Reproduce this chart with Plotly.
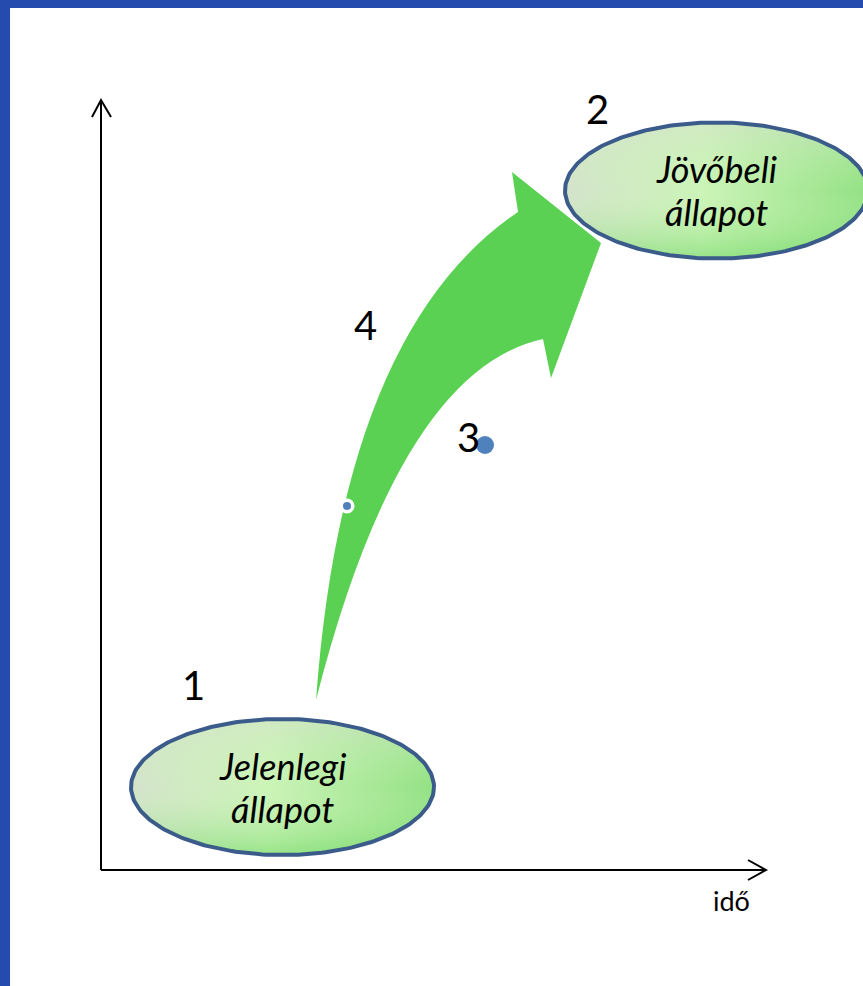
import numpy as np
import plotly.graph_objects as go

W, H = 863, 986

# ---- diagram content (pixel-space coordinates of the schematic) ----
state_line1 = ["Jelenlegi", "Jövőbeli"]
state_line2 = ["állapot", "állapot"]
state_cx = [282.5, 716.5]
state_cy = [787.0, 190.5]
state_rx = [151.5, 151.5]
state_ry = [68.0, 68.0]
text_line1_y = [766, 169]
text_line2_y = [809, 212]

num_labels = ["1", "2", "3", "4"]
num_x = [193, 597, 468, 365]
num_y = [685, 109, 437, 325]

dot_x = [485, 347]
dot_y = [445, 506]
dot_size = [18, 11.5]
dot_ring = [0, 3.5]

axis_origin = (101, 870)
axis_top_y = 100
axis_right_x = 766
axis_label = "idő"

# curved arrow outline: tail, outer control, head base, barb, tip, barb, inner base, inner control
arrow_tail = (316, 700)
arrow_outer_ctrl = (343, 330)
arrow_outer_end = (518, 212)
arrow_barb1 = (512, 172)
arrow_tip = (601, 243)
arrow_barb2 = (551, 378)
arrow_inner_start = (543, 339)
arrow_inner_ctrl = (400, 370)

fig = go.Figure()

# ellipses with gradient fill
t = np.linspace(0, 2 * np.pi, 241)
for l1, l2, cx, cy, rx, ry, y1, y2 in zip(state_line1, state_line2, state_cx, state_cy,
                                          state_rx, state_ry, text_line1_y, text_line2_y):
    ex = cx + rx * np.cos(t)
    ey = cy + ry * np.sin(t)
    fig.add_trace(go.Scatter(
        x=ex, y=ey, mode="lines", fill="toself", line=dict(width=0),
        fillgradient=dict(type="horizontal", start=cx - rx, stop=cx + rx,
                          colorscale=[[0, "#D4E3CB"], [0.45, "#CCF4B8"], [1, "#93E184"]]),
        hoverinfo="skip", showlegend=False))
    fig.add_trace(go.Scatter(
        x=ex, y=ey, mode="lines", fill="toself", line=dict(width=0),
        fillgradient=dict(type="vertical", start=cy - ry, stop=cy + ry,
                          colorscale=[[0, "rgba(214,224,206,0.55)"], [0.5, "rgba(204,245,185,0)"],
                                      [1, "rgba(100,212,90,0.5)"]]),
        hoverinfo="skip", showlegend=False))
    fig.add_trace(go.Scatter(
        x=ex, y=ey, mode="lines", line=dict(color="#3B5C8B", width=4),
        hoverinfo="skip", showlegend=False))
    for txt, ty in ((l1, y1), (l2, y2)):
        fig.add_annotation(x=cx, y=ty, text="<i>" + txt + "</i>", showarrow=False,
                           xanchor="center", yanchor="middle",
                           font=dict(family="Lato", size=36, color="black"))

# dots
fig.add_trace(go.Scatter(
    x=dot_x, y=dot_y, mode="markers",
    marker=dict(size=dot_size, color="#4F81BD", opacity=1,
                line=dict(color="white", width=dot_ring)),
    hoverinfo="skip", showlegend=False))

# numbers
for s, x, y in zip(num_labels, num_x, num_y):
    fig.add_annotation(x=x, y=y, text=s, showarrow=False, xanchor="center", yanchor="middle",
                       font=dict(family="Lato", size=40, color="black"))

fig.add_annotation(x=731, y=900, text=axis_label, showarrow=False, xanchor="center", yanchor="middle",
                   font=dict(family="Lato", size=27, color="black"))

def P(p):
    return f"{p[0]},{p[1]}"

arrow_path = (f"M {P(arrow_tail)} Q {P(arrow_outer_ctrl)} {P(arrow_outer_end)} "
              f"L {P(arrow_barb1)} L {P(arrow_tip)} L {P(arrow_barb2)} L {P(arrow_inner_start)} "
              f"Q {P(arrow_inner_ctrl)} {P(arrow_tail)} Z")

ox, oy = axis_origin
shapes = [
    dict(type="path", path=arrow_path, fillcolor="#5AD152", line=dict(width=0), layer="below"),
    dict(type="line", x0=ox, y0=oy, x1=ox, y1=axis_top_y, line=dict(color="black", width=2)),
    dict(type="line", x0=ox, y0=oy, x1=axis_right_x, y1=oy, line=dict(color="black", width=2)),
    dict(type="path", path=f"M {ox-9},{axis_top_y+17} L {ox},{axis_top_y} L {ox+10},{axis_top_y+17}",
         line=dict(color="black", width=2)),
    dict(type="path", path=f"M {axis_right_x-18},{oy-10} L {axis_right_x},{oy} L {axis_right_x-18},{oy+10}",
         line=dict(color="black", width=2)),
    dict(type="rect", x0=0, x1=10, y0=0, y1=H, fillcolor="#264BAF", line=dict(width=0)),
    dict(type="rect", x0=0, x1=W, y0=0, y1=8, fillcolor="#264BAF", line=dict(width=0)),
]

fig.update_layout(
    width=W, height=H, autosize=False,
    margin=dict(l=0, r=0, t=0, b=0),
    paper_bgcolor="white", plot_bgcolor="white",
    xaxis=dict(range=[0, W], visible=False, fixedrange=True),
    yaxis=dict(range=[H, 0], visible=False, fixedrange=True),
    shapes=shapes, showlegend=False,
)

fig.write_html("out.html")
